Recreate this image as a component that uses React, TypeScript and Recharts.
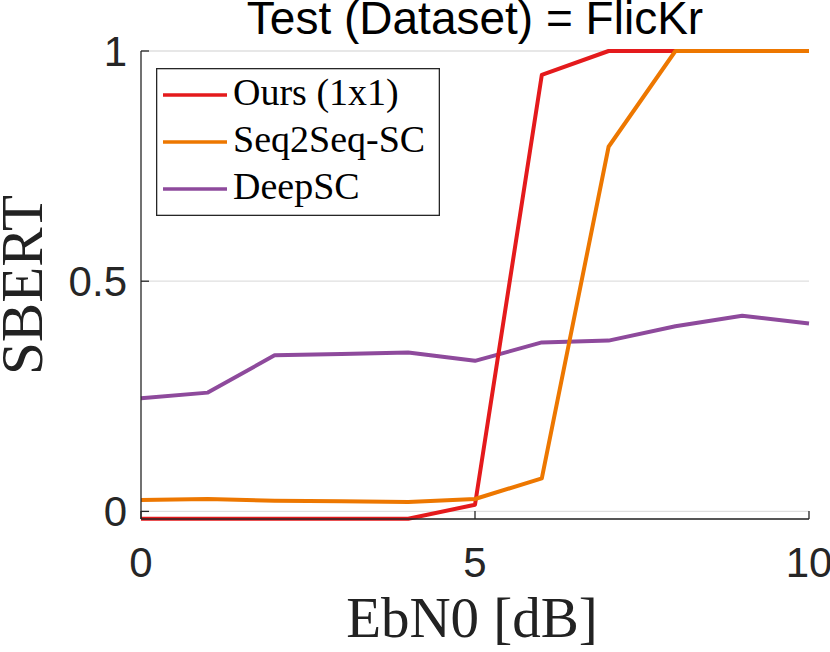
import React from 'react';
import { LineChart, Line, XAxis, YAxis, CartesianGrid, Label } from 'recharts';

// EbN0 sweep (dB) and SBERT score per method
const ebn0 = [0, 1, 2, 3, 4, 5, 6, 7, 8, 9, 10];
const oursValues = [-0.016, -0.016, -0.016, -0.016, -0.016, 0.0145, 0.948, 1, 1, 1, 1];
const seq2seqValues = [0.025, 0.027, 0.023, 0.022, 0.0205, 0.027, 0.0716, 0.792, 1, 1, 1];
const deepscValues = [0.246, 0.258, 0.339, 0.342, 0.345, 0.327, 0.367, 0.371, 0.402, 0.425, 0.408];

const xTicks = [0, 5, 10];
const yTicks = [0, 0.5, 1];

const SERIES = [
  { key: 'ours', name: 'Ours (1x1)', color: '#e41a1c' },
  { key: 'seq2seq', name: 'Seq2Seq-SC', color: '#ed7700' },
  { key: 'deepsc', name: 'DeepSC', color: '#8e4a9c' },
];

const AXIS_COLOR = '#262626';
const SANS = '"Liberation Sans", Arial, Helvetica, sans-serif';
const SERIF = '"Liberation Serif", "Times New Roman", serif';

const data = ebn0.map((x, i) => ({
  x,
  ours: oursValues[i],
  seq2seq: seq2seqValues[i],
  deepsc: deepscValues[i],
}));

function XTick(props: any) {
  const { x, y, payload } = props;
  return (
    <g>
      <line x1={x} y1={y} x2={x} y2={y - 8} stroke={AXIS_COLOR} strokeWidth={1.3} />
      <text x={x} y={y + 58} textAnchor="middle" fontFamily={SANS} fontSize={42} fill={AXIS_COLOR}>
        {payload.value}
      </text>
    </g>
  );
}

function YTick(props: any) {
  const { x, y, payload } = props;
  return (
    <g>
      <line x1={x} y1={y} x2={x + 8} y2={y} stroke={AXIS_COLOR} strokeWidth={1.3} />
      <text x={x - 14} y={y + 15} textAnchor="end" fontFamily={SANS} fontSize={42} fill={AXIS_COLOR}>
        {payload.value}
      </text>
    </g>
  );
}

function ChartLegend() {
  return (
    <svg
      width={284}
      height={148}
      style={{ position: 'absolute', left: 156, top: 68, pointerEvents: 'none' }}
    >
      <rect x={0.65} y={0.65} width={282.7} height={146.7} fill="#fff" stroke={AXIS_COLOR} strokeWidth={1.3} />
      {SERIES.map((s, i) => {
        const cy = 27 + i * 47;
        return (
          <g key={s.key}>
            <line x1={7} y1={cy} x2={71} y2={cy} stroke={s.color} strokeWidth={3.5} />
            <text x={77} y={cy + 9.5} fontFamily={SERIF} fontSize={38} fill="#000">
              {s.name}
            </text>
          </g>
        );
      })}
    </svg>
  );
}

export default function App() {
  return (
    <div style={{ position: 'relative', width: 830, height: 652, background: '#fff' }}>
      <style>{'body{margin:0}'}</style>
      <LineChart width={830} height={652} data={data} margin={{ top: 51, right: 21, left: 0, bottom: 0 }}>
        <CartesianGrid vertical={false} stroke="#dfdfdf" strokeWidth={1.3} />
        <XAxis
          dataKey="x"
          type="number"
          domain={[0, 10]}
          ticks={xTicks}
          interval={0}
          height={133}
          tickSize={0}
          tickMargin={0}
          tickLine={false}
          axisLine={{ stroke: AXIS_COLOR, strokeWidth: 1.3 }}
          tick={<XTick />}
        >
          <Label
            content={(p: any) => {
              const vb = p.viewBox;
              return (
                <text
                  x={vb.x + vb.width / 2 - 3}
                  y={vb.y + 118}
                  textAnchor="middle"
                  fontFamily={SERIF}
                  fontSize={57}
                  fill="#222"
                >
                  EbN0 [dB]
                </text>
              );
            }}
          />
        </XAxis>
        <YAxis
          type="number"
          domain={[-0.0165, 1]}
          ticks={yTicks}
          interval={0}
          width={141}
          tickSize={0}
          tickMargin={0}
          tickLine={false}
          axisLine={{ stroke: AXIS_COLOR, strokeWidth: 1.3 }}
          tick={<YTick />}
        >
          <Label
            content={(p: any) => {
              const vb = p.viewBox;
              const cx = 42;
              const cy = vb.y + vb.height / 2;
              return (
                <text
                  x={cx}
                  y={cy}
                  transform={`rotate(-90, ${cx}, ${cy})`}
                  textAnchor="middle"
                  fontFamily={SERIF}
                  fontSize={59}
                  fill="#222"
                >
                  SBERT
                </text>
              );
            }}
          />
        </YAxis>
        <Line
          dataKey="deepsc"
          name="DeepSC"
          stroke="#8e4a9c"
          strokeWidth={4}
          strokeLinejoin="round"
          dot={false}
          activeDot={false}
          isAnimationActive={false}
        />
        <Line
          dataKey="ours"
          name="Ours (1x1)"
          stroke="#e41a1c"
          strokeWidth={4}
          strokeLinejoin="round"
          dot={false}
          activeDot={false}
          isAnimationActive={false}
        />
        <Line
          dataKey="seq2seq"
          name="Seq2Seq-SC"
          stroke="#ed7700"
          strokeWidth={4}
          strokeLinejoin="round"
          dot={false}
          activeDot={false}
          isAnimationActive={false}
        />
      </LineChart>
      <svg width={830} height={60} style={{ position: 'absolute', left: 0, top: 0, pointerEvents: 'none' }}>
        <text x={475} y={34} textAnchor="middle" fontFamily={SANS} fontSize={46} fill="#000">
          Test (Dataset) = FlicKr
        </text>
      </svg>
      <ChartLegend />
    </div>
  );
}
